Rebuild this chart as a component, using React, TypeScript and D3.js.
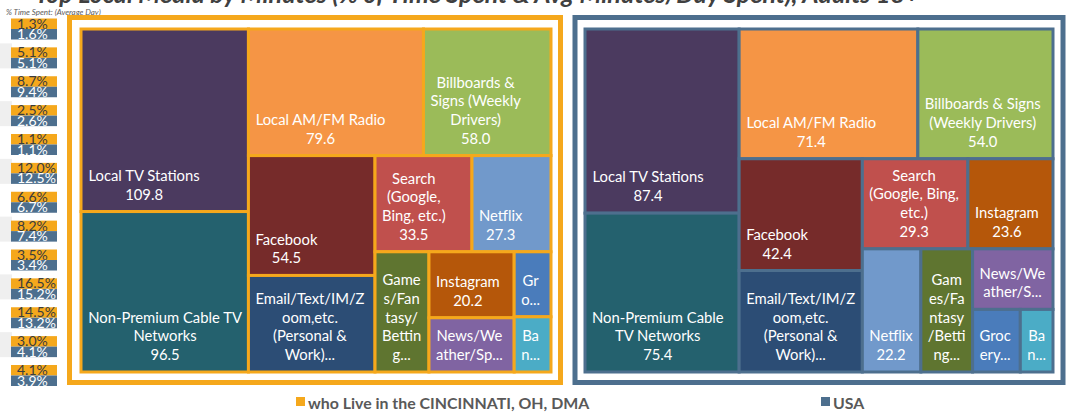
import * as d3 from "d3";

// chart data
const categories = [
  "Local TV Stations",
  "Non-Premium Cable TV Networks",
  "Local AM/FM Radio",
  "Billboards & Signs (Weekly Drivers)",
  "Facebook",
  "Email/Text/IM/Zoom,etc. (Personal & Work)",
  "Search (Google, Bing, etc.)",
  "Netflix",
  "Games/Fantasy/Betting",
  "Instagram",
  "News/Weather/Sports",
  "Grocery",
  "Banking",
];
const cincinnatiMinutes = [109.8, 96.5, 79.6, 58.0, 54.5, 43.9, 33.5, 27.3, 23.3, 20.2, 16.6, 8.6, 7.3];
const usaMinutes = [87.4, 75.4, 71.4, 54.0, 42.4, 38.5, 29.3, 22.2, 19.6, 23.6, 15.0, 9.2, 6.3];

// % time spent column (average day)
const cincinnatiPct = [1.3, 5.1, 8.7, 2.5, 1.1, 12.0, 6.6, 8.2, 3.5, 16.5, 14.5, 3.0, 4.1];
const usaPct = [1.6, 5.1, 9.4, 2.6, 1.1, 12.5, 6.7, 7.4, 3.4, 15.2, 13.2, 4.1, 3.9];

const seriesNames = ["who Live in the CINCINNATI, OH, DMA", "USA"];
const titleText = "Top Local Media by Minutes (% of Time Spent & Avg Minutes/Day Spent), Adults 18+";

// styling
const categoryColors = [
  "#4b3a5f", "#24616e", "#f59545", "#9bbb59", "#762b2a", "#2c4d75", "#c0504d",
  "#7199cb", "#5f7530", "#b5570a", "#8064a2", "#4a7cbb", "#4bacc6",
];
const ORANGE = "#f5a81c";
const BLUE = "#4d6f8e";
const LABEL_FONT = "Lato, 'Open Sans', sans-serif";
const LABEL_SIZE = 14.8;
const LINE_H = 18.7;
const PAD = 7;
const WRAP_INSET = 12;

// how Excel grouped the tiles into strips
const cincinnatiStrips = [2, 2, 2, 2, 1, 2, 1, 1];
const usaStrips = [2, 2, 2, 2, 1, 1, 1, 1, 1];

const ctx = document.createElement("canvas").getContext("2d")!;
ctx.font = `${LABEL_SIZE}px ${LABEL_FONT}`;
const measure = (s: string) => ctx.measureText(s).width;

function stripTile(strips: number[]) {
  return (parent: any, x0: number, y0: number, x1: number, y1: number) => {
    const nodes = parent.children;
    let i = 0;
    let remaining = parent.value;
    for (const k of strips) {
      const group = nodes.slice(i, i + k);
      const sum = d3.sum(group, (d: any) => d.value);
      const row = { value: sum, children: group } as any;
      const dx = x1 - x0, dy = y1 - y0;
      if (dx >= dy) {
        const xm = x0 + (dx * sum) / remaining;
        d3.treemapSlice(row, x0, y0, xm, y1);
        x0 = xm;
      } else {
        const ym = y0 + (dy * sum) / remaining;
        d3.treemapDice(row, x0, y0, x1, ym);
        y0 = ym;
      }
      remaining -= sum;
      i += k;
    }
  };
}

function wrapLabel(name: string, value: number, maxW: number, maxLines: number) {
  const charW = maxW - 2; // breaking inside a word is a bit tighter
  const lines: string[] = [];
  let cur = "";
  for (const w of name.split(" ")) {
    const test = cur ? cur + " " + w : w;
    if (measure(test) <= maxW) {
      cur = test;
      continue;
    }
    if (cur) lines.push(cur);
    let word = w;
    while (measure(word) > maxW && word.length > 1) {
      let n = word.length - 1;
      while (n > 1 && measure(word.slice(0, n)) > charW) n--;
      lines.push(word.slice(0, n));
      word = word.slice(n);
    }
    cur = word;
  }
  if (cur) lines.push(cur);
  lines.push(value.toFixed(1));
  if (lines.length <= maxLines) return lines;
  const kept = lines.slice(0, Math.max(1, maxLines));
  let last = kept[kept.length - 1];
  while (last.length > 1 && measure(last + "...") > charW) last = last.slice(0, -1);
  kept[kept.length - 1] = last + "...";
  return kept;
}

function Treemap({ values, strips, x, y, width, height, border }: any) {
  const root = d3
    .hierarchy<any>({ children: categories.map((name, i) => ({ name, value: values[i], color: categoryColors[i] })) })
    .sum((d) => d.value ?? 0)
    .sort((a, b) => (b.value ?? 0) - (a.value ?? 0));
  d3.treemap<any>().size([width, height]).tile(stripTile(strips) as any)(root);
  const leaves = root.leaves() as any[];

  return (
    <g transform={`translate(${x},${y})`}>
      {leaves.map((d) => (
        <rect
          key={d.data.name}
          x={d.x0}
          y={d.y0}
          width={d.x1 - d.x0}
          height={d.y1 - d.y0}
          fill={d.data.color}
          stroke={border}
          strokeWidth={3}
        />
      ))}
      {leaves.map((d) => {
        const w = d.x1 - d.x0;
        const h = d.y1 - d.y0;
        const maxLines = Math.floor((h - 12) / LINE_H);
        const lines = wrapLabel(d.data.name, d.data.value, w - WRAP_INSET, maxLines);
        const blockW = d3.max(lines, measure) ?? 0;
        const cx = d.x0 + PAD + blockW / 2;
        const lastBase = d.y1 - 12;
        return (
          <text
            key={d.data.name + "-label"}
            fill="#fff"
            fontFamily={LABEL_FONT}
            fontSize={LABEL_SIZE}
            textAnchor="middle"
          >
            {lines.map((l, j) => (
              <tspan key={j} x={cx} y={lastBase - (lines.length - 1 - j) * LINE_H}>
                {l}
              </tspan>
            ))}
          </text>
        );
      })}
    </g>
  );
}

export default function App() {
  const rowY = d3.scaleLinear().domain([0, cincinnatiPct.length - 1]).range([18.5, 365]);

  return (
    <svg
      width={1067}
      height={414}
      style={{ position: "absolute", left: 0, top: 0, background: "#fff" }}
    >
      {/* title, cut by the top edge */}
      <text x={35} y={3} fontFamily={LABEL_FONT} fontSize={25} fontWeight="bold" fontStyle="italic" fill="#404040">
        {titleText}
      </text>

      {/* percent column */}
      {cincinnatiPct.map((p, i) => {
        const top = rowY(i);
        return (
          <g key={i}>
            {i % 2 === 1 && <rect x={0} y={top - 4} width={12} height={25} fill="#efefef" />}
            <rect x={11} y={top} width={46} height={10.5} fill={ORANGE} />
            <rect x={11} y={top + 10.5} width={46} height={10.5} fill={BLUE} />
            <text x={17} y={top + 10} fontFamily={LABEL_FONT} fontSize={14} fill="#3c3c3c">
              {p.toFixed(1)}%
            </text>
            <text x={17} y={top + 20.5} fontFamily={LABEL_FONT} fontSize={14} fill="#fff">
              {usaPct[i].toFixed(1)}%
            </text>
          </g>
        );
      })}
      <rect x={57} y={16} width={10} height={398} fill="#fff" />
      <text x={6} y={15} fontFamily={LABEL_FONT} fontSize={8} fontStyle="italic" fill="#595959">
        % Time Spent:  (Average Day)
      </text>

      {/* panels */}
      <rect x={69.5} y={17.5} width={491} height={365} fill="#fff" stroke={ORANGE} strokeWidth={5} />
      <rect x={575} y={17.5} width={488} height={365} fill="#fff" stroke={BLUE} strokeWidth={5} />

      <Treemap values={cincinnatiMinutes} strips={cincinnatiStrips} x={81} y={29} width={470} height={343} border={ORANGE} />
      <Treemap values={usaMinutes} strips={usaStrips} x={585} y={29} width={468} height={343} border={BLUE} />

      {/* legend */}
      <rect x={296} y={397} width={9} height={9} fill={ORANGE} />
      <text x={308} y={409} fontFamily={LABEL_FONT} fontSize={15.9} fontWeight="bold" fill="#595959">
        {seriesNames[0]}
      </text>
      <rect x={821} y={397} width={9} height={9} fill={BLUE} />
      <text x={833} y={409} fontFamily={LABEL_FONT} fontSize={15.9} fontWeight="bold" fill="#595959">
        {seriesNames[1]}
      </text>
    </svg>
  );
}
